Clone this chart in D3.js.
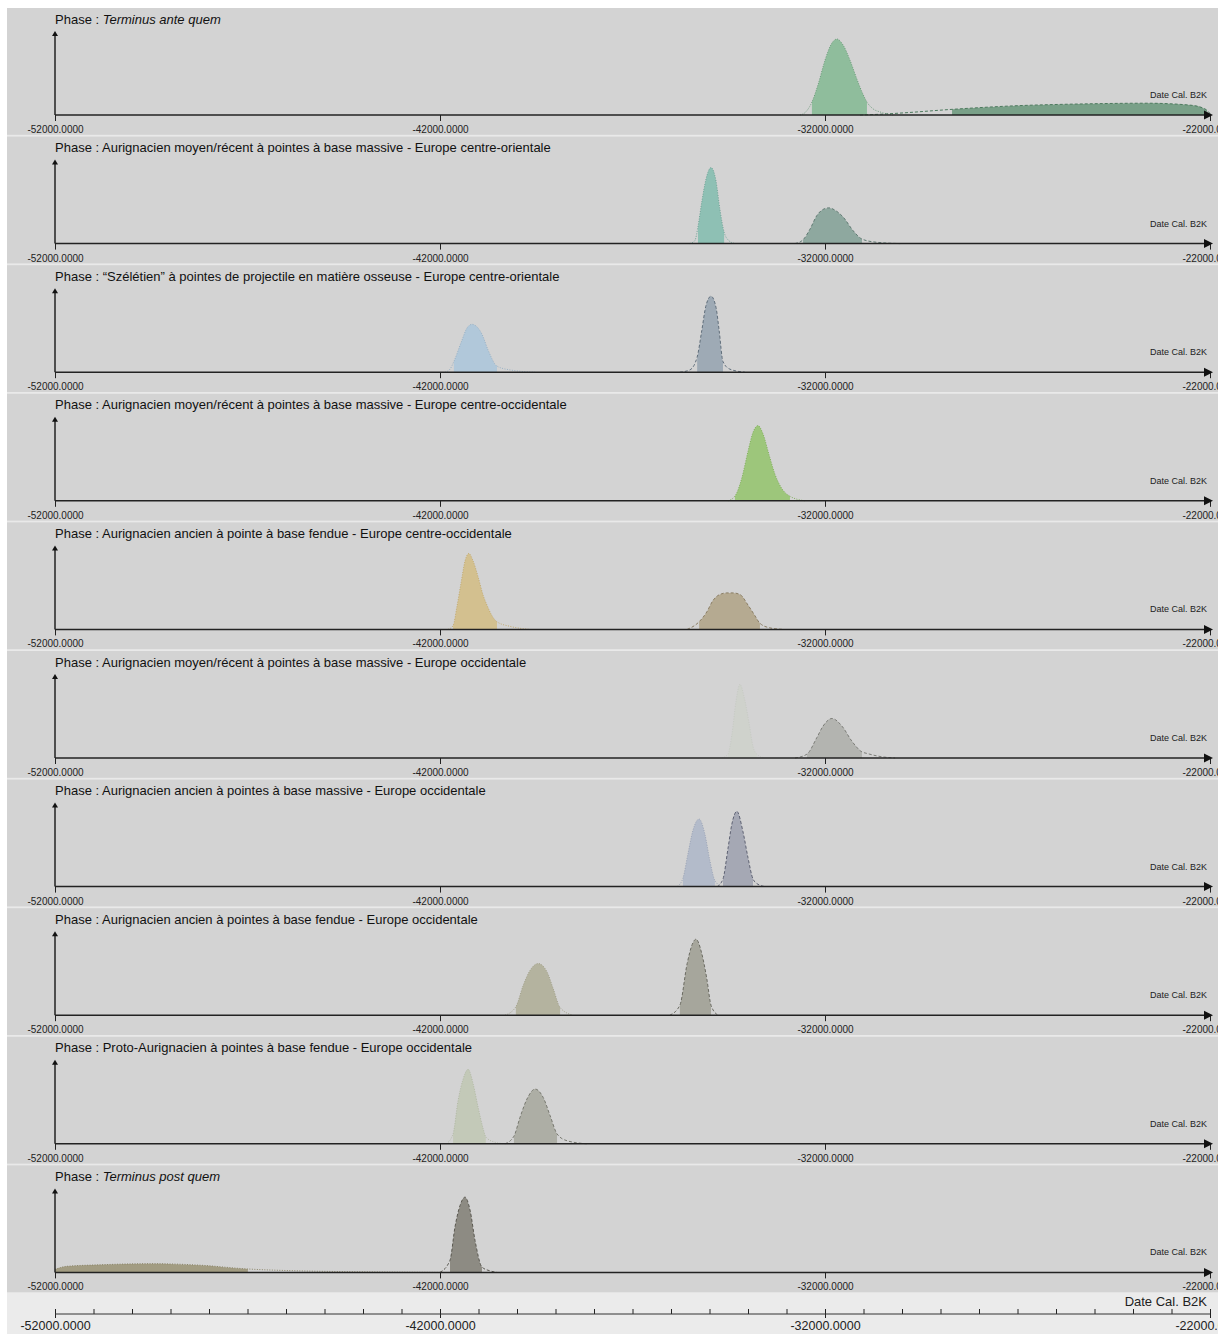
<!DOCTYPE html>
<html><head><meta charset="utf-8">
<script src="https://cdn.jsdelivr.net/npm/d3@7"></script>
<style>body{margin:0;background:#fff;} svg{display:block;font-family:"Liberation Sans",Arial,sans-serif;}</style>
</head><body><svg id="c" width="1225" height="1334"></svg>
<script>
// ---------- DATA ----------
const phaseNames = [
  "Terminus ante quem",
  "Aurignacien moyen/récent à pointes à base massive - Europe centre-orientale",
  "“Szélétien” à pointes de projectile en matière osseuse - Europe centre-orientale",
  "Aurignacien moyen/récent à pointes à base massive - Europe centre-occidentale",
  "Aurignacien ancien à pointe à base fendue - Europe centre-occidentale",
  "Aurignacien moyen/récent à pointes à base massive - Europe occidentale",
  "Aurignacien ancien à pointes à base massive - Europe occidentale",
  "Aurignacien ancien à pointes à base fendue - Europe occidentale",
  "Proto-Aurignacien à pointes à base fendue - Europe occidentale",
  "Terminus post quem"
];
const phaseItalic = [true,false,false,false,false,false,false,false,false,true];
const xDomain = [-52000, -22000];
const majorTicks = [-52000, -42000, -32000, -22000];
const minorTicks = d3.range(-52000, -21999, 1000);
const axisLabel = "Date Cal. B2K";

// density curves [year, relative density] — start (a) and end (b) of each phase
const p1a = [[-32650,0],[-32500,0.04],[-32340,0.17],[-32180,0.40],[-32000,0.72],[-31840,0.93],[-31690,1.0],[-31530,0.92],[-31350,0.72],[-31170,0.47],[-31010,0.27],[-30910,0.17],[-30750,0.08],[-30570,0.04],[-30230,0]];
const p1b = [[-31090,0],[-30570,0.01],[-30050,0.025],[-28680,0.075],[-27120,0.12],[-25380,0.145],[-23640,0.155],[-22520,0.13],[-22130,0.08],[-22000,0.02]];
const p2a = [[-35510,0],[-35380,0.04],[-35300,0.22],[-35200,0.55],[-35090,0.85],[-34960,1.0],[-34830,0.82],[-34730,0.45],[-34620,0.15],[-34520,0.05],[-34340,0]];
const p2b = [[-32780,0],[-32570,0.05],[-32390,0.19],[-32210,0.37],[-32050,0.45],[-31900,0.47],[-31710,0.43],[-31530,0.35],[-31270,0.17],[-31040,0.06],[-30700,0.02],[-30050,0]];
const p3a = [[-41870,0],[-41740,0.04],[-41640,0.14],[-41430,0.42],[-41300,0.58],[-41170,0.63],[-41010,0.58],[-40910,0.50],[-40750,0.29],[-40520,0.08],[-40180,0.03],[-39530,0]];
const p3b = [[-35770,0],[-35510,0.03],[-35320,0.2],[-35200,0.55],[-35090,0.88],[-34960,1.0],[-34830,0.85],[-34750,0.55],[-34650,0.14],[-34470,0.04],[-34080,0]];
const p4a = [[-34520,0],[-34340,0.06],[-34160,0.3],[-34000,0.65],[-33870,0.9],[-33740,0.99],[-33610,0.88],[-33450,0.6],[-33300,0.35],[-33120,0.16],[-32910,0.06],[-32520,0]];
const p4b = [];
const p5a = [[-41790,0],[-41660,0.05],[-41560,0.3],[-41450,0.62],[-41350,0.9],[-41250,1.0],[-41140,0.9],[-41010,0.69],[-40880,0.45],[-40780,0.32],[-40650,0.18],[-40520,0.1],[-40180,0.04],[-39660,0]];
const p5b = [[-35580,0],[-35270,0.1],[-35070,0.23],[-34910,0.38],[-34730,0.46],[-34550,0.48],[-34390,0.48],[-34210,0.46],[-34000,0.32],[-33820,0.18],[-33690,0.08],[-33430,0.02],[-33090,0]];
const p6a = [[-34680,0],[-34520,0.05],[-34420,0.3],[-34310,0.75],[-34210,0.97],[-34100,0.8],[-33970,0.45],[-33870,0.15],[-33770,0.05],[-33560,0]];
const p6b = [[-32780,0],[-32470,0.05],[-32210,0.27],[-32050,0.42],[-31820,0.52],[-31560,0.42],[-31300,0.22],[-31040,0.08],[-30910,0.06],[-30570,0.02],[-30180,0]];
const p7a = [[-35840,0],[-35690,0.11],[-35560,0.43],[-35430,0.74],[-35270,0.89],[-35120,0.69],[-34990,0.34],[-34860,0.08],[-34680,0]];
const p7b = [[-34800,0],[-34650,0.1],[-34520,0.5],[-34420,0.82],[-34290,0.99],[-34130,0.72],[-34000,0.38],[-33870,0.1],[-33740,0.03],[-33560,0]];
const p8a = [[-40310,0],[-40030,0.11],[-39840,0.39],[-39660,0.59],[-39450,0.68],[-39220,0.57],[-39060,0.35],[-38880,0.1],[-38550,0]];
const p8b = [[-36030,0],[-35770,0.13],[-35580,0.68],[-35450,0.93],[-35350,1.0],[-35200,0.81],[-35070,0.48],[-34960,0.13],[-34780,0]];
const p9a = [[-41840,0],[-41660,0.13],[-41530,0.57],[-41400,0.85],[-41270,0.98],[-41140,0.79],[-41010,0.48],[-40880,0.2],[-40810,0.09],[-40570,0.02],[-40310,0]];
const p9b = [[-40310,0],[-40080,0.1],[-39920,0.35],[-39740,0.59],[-39530,0.72],[-39320,0.61],[-39140,0.37],[-38960,0.13],[-38700,0.04],[-38180,0]];
const p10a = [[-52000,0.04],[-51700,0.08],[-50830,0.1],[-49530,0.115],[-48230,0.095],[-46990,0.045],[-45640,0.02],[-43900,0.008],[-41920,0]];
const p10b = [[-42000,0],[-41740,0.16],[-41610,0.6],[-41480,0.88],[-41350,0.99],[-41220,0.82],[-41090,0.42],[-40910,0.07],[-40700,0.02],[-40520,0]];

const startCurves = [p1a,p2a,p3a,p4a,p5a,p6a,p7a,p8a,p9a,p10a];
const endCurves   = [p1b,p2b,p3b,p4b,p5b,p6b,p7b,p8b,p9b,p10b];
// highest-density intervals (filled part)
const startHPD = [[-32340,-30910],[-35300,-34620],[-41640,-40520],[-34340,-32910],[-41660,-40520],[-34520,-33770],[-35690,-34860],[-40030,-38880],[-41660,-40810],[-52000,-46990]];
const endHPD   = [[-28700,-22080],[-32570,-31040],[-35320,-34650],null,[-35270,-33690],[-32470,-31040],[-34650,-33870],[-35770,-34960],[-40080,-38960],[-41740,-40910]];

// ---------- STYLES ----------
const fillA   = ['#8fbd9c','#8ec0b4','#b1c8da','#9dc67b','#d3c08f','#cfd2cc','#b3bbca','#b4b39f','#c3c9b8','#a29c82'];
const fillB   = ['#79a088','#8ea89f','#9eaab5',null,'#b5aa91','#b3b4b0','#a5a8b4','#a6a69c','#adaea5','#8d8b83'];
const strokeA = ['#6d9c7b','#6fa396','#97b0c4','#7fae5a','#c2aa70','#c6cac3','#9aa3b6','#a09f88','#b2b9a5','#8a8467'];
const strokeB = ['#4d7a5e','#607a72','#5f6d7a',null,'#8a7d63','#7c7d78','#5d6172','#6b6b62','#77786f','#5a5850'];

// ---------- DRAW ----------
const svg = d3.select('#c');
const defs = svg.append('defs');
defs.append('clipPath').attr('id','clipPage').append('rect').attr('x',0).attr('y',0).attr('width',1218).attr('height',1334);
const root = svg.append('g').attr('clip-path','url(#clipPage)');
const x = d3.scaleLinear().domain(xDomain).range([55,1210]);
const step = 128.6, top0 = 8, panelH = 126.8;

root.append('rect').attr('x',7).attr('y',8).attr('width',1211).attr('height',1326).attr('fill','#e9e9e9');

phaseNames.forEach((name,i)=>{
  const top = top0 + i*step, base = top + 107;
  const g = root.append('g');
  g.append('rect').attr('x',7).attr('y',top).attr('width',1211).attr('height',panelH).attr('fill','#d3d3d3');
  const y = d3.scaleLinear().domain([0,1]).range([base, base-76]);
  const area = d3.area().x(d=>x(d[0])).y0(base).y1(d=>y(d[1])).curve(d3.curveMonotoneX);
  const line = d3.line().x(d=>x(d[0])).y(d=>y(d[1])).curve(d3.curveMonotoneX);
  const sets = [[startCurves[i],startHPD[i],fillA[i],strokeA[i],'1,1.5'],[endCurves[i],endHPD[i],fillB[i],strokeB[i],'3,2']];
  sets.forEach(([pts,hpd,fc,sc,dash],k)=>{
    if(!pts || !pts.length) return;
    const id = `hpd${i}_${k}`;
    defs.append('clipPath').attr('id',id).append('rect')
      .attr('x',x(hpd[0])).attr('y',top).attr('width',x(hpd[1])-x(hpd[0])).attr('height',panelH);
    g.append('path').datum(pts).attr('d',area).attr('fill',fc).attr('clip-path',`url(#${id})`);
    g.append('path').datum(pts).attr('d',line).attr('fill','none').attr('stroke',sc)
      .attr('stroke-width',1).attr('stroke-dasharray',dash);
  });

  // title
  const t = g.append('text').attr('x',55).attr('y',top+15.5).attr('font-size',13).attr('fill','#111');
  t.append('tspan').text('Phase : ');
  t.append('tspan').attr('font-style',phaseItalic[i]?'italic':'normal').text(name);

  // x axis
  const ax = g.append('g').attr('transform',`translate(0,${base})`);
  ax.call(d3.axisBottom(x).tickValues(minorTicks).tickSize(3).tickFormat(''));
  ax.call(d3.axisBottom(x).tickValues(majorTicks).tickSize(6).tickPadding(5).tickFormat(d=>d.toFixed(4)));
  ax.selectAll('.domain').remove();
  ax.selectAll('line').attr('stroke','#222');
  ax.selectAll('text').attr('font-size',10).attr('fill','#222').attr('font-family','"Liberation Sans",Arial,sans-serif');
  g.append('line').attr('x1',55).attr('x2',1206).attr('y1',base).attr('y2',base).attr('stroke','#333').attr('stroke-width',1.5);
  g.append('path').attr('d',`M1204,${base-4.5}L1213,${base}L1204,${base+4.5}Z`).attr('fill','#111');
  // y axis
  g.append('line').attr('x1',55).attr('x2',55).attr('y1',base).attr('y2',top+27).attr('stroke','#333').attr('stroke-width',1.5);
  g.append('path').attr('d',`M52,${top+28}L55,${top+23}L58,${top+28}Z`).attr('fill','#111');
  g.append('text').attr('x',1207).attr('y',base-17).attr('text-anchor','end').attr('font-size',9).attr('fill','#222').text(axisLabel);
});

// bottom global axis
const by = 1314;
root.append('rect').attr('x',7).attr('y',1293).attr('width',1211).attr('height',41).attr('fill','#ebebeb');
root.append('text').attr('x',1207).attr('y',1306).attr('text-anchor','end').attr('font-size',13).attr('fill','#222').text(axisLabel);
const bax = root.append('g').attr('transform',`translate(0,${by})`);
bax.call(d3.axisTop(x).tickValues(minorTicks).tickSize(5).tickFormat(''));
bax.selectAll('.domain').remove();
const bmaj = root.append('g').attr('transform',`translate(0,${by})`);
bmaj.call(d3.axisBottom(x).tickValues(majorTicks).tickSize(4).tickPadding(3).tickFormat(d=>d.toFixed(4)));
bmaj.selectAll('.domain').remove();
root.selectAll('g line').attr('stroke','#222');
bmaj.selectAll('text').attr('font-size',12.5).attr('fill','#222').attr('font-family','"Liberation Sans",Arial,sans-serif');
root.append('line').attr('x1',55).attr('x2',1210).attr('y1',by).attr('y2',by).attr('stroke','#333').attr('stroke-width',1);
</script></body></html>
